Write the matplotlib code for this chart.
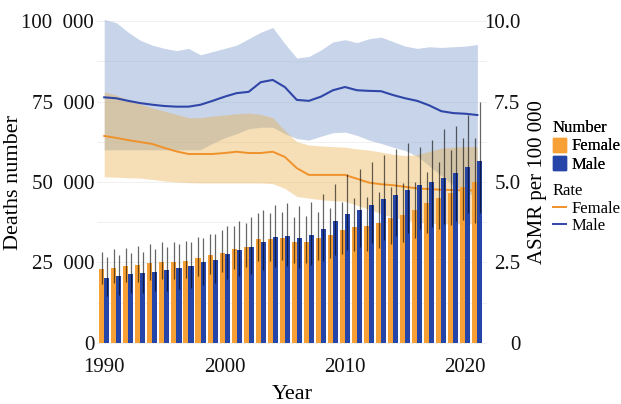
import numpy as np
import matplotlib
matplotlib.use('Agg')
import matplotlib.pyplot as plt
from matplotlib.patches import Patch
from matplotlib.lines import Line2D
from matplotlib.ticker import FuncFormatter, MultipleLocator

plt.rcParams['font.family'] = ['Liberation Serif', 'DejaVu Serif']

years = np.arange(1990, 2022)

# deaths number (bars) with uncertainty
female_deaths = [22900, 23400, 23800, 24100, 24700, 25000, 25200, 25500, 26300, 27200, 28100, 29100,
                 29900, 32200, 32300, 32500, 31300, 31500, 32500, 33500, 35100, 36100, 36300, 37400,
                 38700, 39800, 41300, 43400, 44900, 46500, 48400, 50100]
female_deaths_hi = [28400, 29300, 29600, 30100, 30800, 31300, 31500, 31800, 32900, 34000, 35100, 36400,
                    37400, 40300, 40400, 40600, 39100, 39400, 40600, 41900, 43900, 45100, 45400, 46800,
                    48400, 49800, 49900, 53200, 56300, 59900, 63600, 63600]
female_deaths_lo = [18200, 18500, 18800, 19000, 19500, 19800, 19900, 20100, 20800, 21500, 22200, 23000,
                    23600, 25400, 25500, 25700, 24700, 24900, 25700, 26500, 27700, 28500, 28700, 29500,
                    30600, 31400, 32600, 34300, 35500, 36700, 38200, 37200]
male_deaths = [20100, 20700, 21400, 21700, 22200, 22700, 23400, 23900, 25000, 25900, 27600, 28900,
               29900, 31500, 32800, 33200, 32500, 33500, 35300, 37800, 40100, 41300, 43000, 44600,
               46000, 47500, 49100, 50100, 51200, 52700, 54800, 56500]
male_deaths_hi = [26600, 27200, 28000, 28400, 29100, 29700, 30700, 31300, 32700, 33900, 36200, 37900,
                  39200, 41300, 43000, 43500, 42600, 43900, 46200, 49500, 52500, 54100, 56300, 58400,
                  60300, 62200, 61000, 63100, 66400, 67400, 70800, 75000]
male_deaths_lo = [14500, 14900, 15400, 15600, 16000, 16300, 16800, 17200, 18000, 18600, 19900, 20800,
                  21500, 22700, 23600, 23900, 23400, 24100, 25400, 27200, 28900, 29700, 31000, 32100,
                  33100, 34200, 35400, 36100, 36900, 37900, 40400, 40300]

# age-standardised mortality rate (lines) with uncertainty
female_rate = [6.43, 6.37, 6.30, 6.24, 6.18, 6.06, 5.95, 5.87, 5.87, 5.87, 5.90, 5.94,
               5.90, 5.90, 5.94, 5.78, 5.43, 5.22, 5.22, 5.22, 5.22, 5.10, 4.98, 4.93,
               4.90, 4.85, 4.80, 4.78, 4.76, 4.75, 4.74, 4.74]
female_rate_hi = [7.80, 7.70, 7.55, 7.42, 7.30, 7.20, 7.10, 7.00, 7.00, 7.05, 7.08, 7.12,
                  7.14, 7.10, 7.00, 6.60, 6.25, 6.15, 6.12, 6.10, 6.08, 6.03, 5.99, 5.93,
                  5.86, 5.82, 5.85, 5.95, 6.05, 6.08, 6.10, 6.10]
female_rate_lo = [5.16, 5.15, 5.13, 5.12, 5.08, 5.03, 5.00, 4.98, 4.97, 4.97, 4.97, 4.97,
                  4.97, 4.97, 4.95, 4.80, 4.55, 4.50, 4.45, 4.42, 4.40, 4.28, 4.15, 4.02,
                  3.90, 3.82, 3.75, 3.72, 3.70, 3.70, 3.70, 3.70]
male_rate = [7.63, 7.60, 7.52, 7.45, 7.40, 7.36, 7.34, 7.34, 7.40, 7.52, 7.65, 7.76,
             7.80, 8.10, 8.17, 7.95, 7.55, 7.52, 7.65, 7.85, 7.95, 7.85, 7.83, 7.82,
             7.70, 7.60, 7.52, 7.38, 7.20, 7.14, 7.12, 7.08]
male_rate_hi = [10.05, 9.95, 9.65, 9.40, 9.25, 9.15, 9.08, 9.15, 8.95, 9.05, 9.15, 9.25,
                9.45, 9.65, 9.80, 9.30, 8.85, 8.90, 9.10, 9.35, 9.42, 9.33, 9.45, 9.50,
                9.36, 9.22, 9.15, 9.20, 9.18, 9.20, 9.22, 9.27]
male_rate_lo = [6.00, 6.00, 6.00, 6.00, 6.00, 6.00, 6.00, 6.00, 6.00, 6.20, 6.37, 6.50,
                6.65, 6.70, 6.70, 6.50, 6.35, 6.30, 6.42, 6.53, 6.55, 6.45, 6.30, 6.20,
                6.08, 5.98, 5.80, 5.50, 5.20, 4.90, 4.70, 4.50]

c_female = '#F7A035'
c_male = '#2545A8'
c_female_line = '#F0922B'
c_male_line = '#2F46A8'

fig = plt.figure(figsize=(6.21, 4.04), dpi=100)
ax = fig.add_axes([97/621, 1 - 352/404, 390/621, 340/404])
ax2 = ax.twinx()
# bars on top of ribbons/lines
ax.set_zorder(ax2.get_zorder() + 1)
ax.patch.set_visible(False)

# ribbons + lines on rate axis
ax2.fill_between(years, male_rate_lo, male_rate_hi, color='#90ABD4', alpha=0.5, lw=0, zorder=1)
ax2.fill_between(years, female_rate_lo, female_rate_hi, color='#EAB04A', alpha=0.4, lw=0, zorder=2)
ax2.plot(years, female_rate, color=c_female_line, lw=1.4, zorder=3)
ax2.plot(years, male_rate, color=c_male_line, lw=1.5, zorder=3)

# bars on deaths axis
w = 0.42
ax.bar(years - w/2, female_deaths, width=w, color=c_female, lw=0, zorder=2)
ax.bar(years + w/2, male_deaths, width=w, color=c_male, lw=0, zorder=2)
ax.vlines(years - w/2, female_deaths_lo, female_deaths_hi, color='black', alpha=0.6, lw=0.9, zorder=3)
ax.vlines(years + w/2, male_deaths_lo, male_deaths_hi, color='black', alpha=0.6, lw=0.9, zorder=3)

ax.set_xlim(1989.4, 2021.8)
ax.set_ylim(-2800, 102800)
ax2.set_ylim(-0.28, 10.28)

ax.set_xticks([1990, 2000, 2010, 2020])
ax.set_yticks([0, 25000, 50000, 75000, 100000])
ax.yaxis.set_major_formatter(FuncFormatter(lambda v, p: '0' if v == 0 else f'{int(v):,}'.replace(',', '  ')))
ax2.set_yticks([0, 2.5, 5.0, 7.5, 10.0])
ax2.set_yticklabels(['0', '2.5', '5.0', '7.5', '10.0'])
for lab in ax2.get_yticklabels():
    lab.set_horizontalalignment('right')

# faint grid on the bottom axis
ax2.xaxis.set_minor_locator(MultipleLocator(5))
ax2.yaxis.set_minor_locator(MultipleLocator(1.25))
ax2.set_xticks([1990, 2000, 2010, 2020])
ax2.grid(True, which='both', color='#EEEEEE', lw=0.6, zorder=0)
ax2.set_axisbelow(True)

for a in (ax, ax2):
    for s in a.spines.values():
        s.set_visible(False)
ax.tick_params(axis='both', which='both', length=0, labelsize=15, colors='#111111', pad=2)
ax.tick_params(axis='x', pad=4)
ax2.tick_params(axis='both', which='both', length=0, labelsize=15, colors='#111111')
ax2.tick_params(axis='y', pad=24)
ax2.tick_params(axis='x', labelbottom=False)

ax.set_xlabel('Year', fontsize=16, labelpad=6)
ax.set_ylabel('Deaths number', fontsize=16)
ax.yaxis.set_label_coords(-0.19, 0.5)
ax2.set_ylabel('ASMR per 100 000', fontsize=15)
ax2.yaxis.set_label_coords(1.105, 0.5)

leg_kw = dict(loc='upper left', frameon=False, fontsize=12, alignment='left',
              title_fontproperties={'size': 12, 'weight': 'normal'},
              handlelength=0.8, handletextpad=0.3, labelspacing=0.1,
              borderpad=0, borderaxespad=0)
leg1 = fig.legend(handles=[Patch(color=c_female, label='Female'), Patch(color=c_male, label='Male')],
                  title='Number', bbox_to_anchor=(553/621, 1 - 120/404), handleheight=0.9, **leg_kw)
fig.add_artist(leg1)
fig.legend(handles=[Line2D([], [], color=c_female_line, lw=1.4, label='Female'),
                    Line2D([], [], color=c_male_line, lw=1.4, label='Male')],
           title='Rate', bbox_to_anchor=(553/621, 1 - 183/404), **leg_kw)

fig.savefig('out.png', dpi=100)
